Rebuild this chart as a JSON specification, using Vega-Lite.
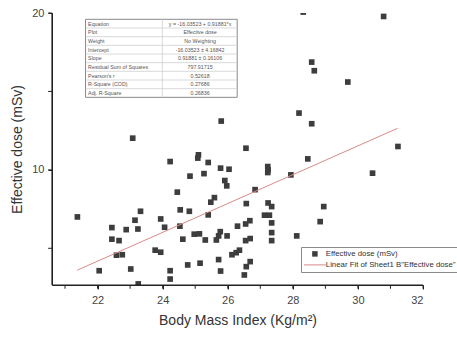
{
  "$schema": "https://vega.github.io/schema/vega-lite/v6.json",
  "width": 371,
  "height": 272,
  "autosize": {"type": "none"},
  "padding": {"left": 52, "top": 13, "right": 34, "bottom": 52},
  "background": "white",
  "config": {
    "view": {"stroke": null},
    "font": "Liberation Sans",
    "axis": {
      "grid": false,
      "domain": true,
      "ticks": true,
      "domainColor": "#222222",
      "tickColor": "#222222",
      "domainWidth": 1,
      "tickWidth": 1,
      "tickSize": 4,
      "labelColor": "#444444",
      "labelFontSize": 11,
      "labelFont": "Liberation Sans",
      "titleFontSize": 14,
      "titleFontWeight": "normal",
      "titleColor": "#333333",
      "titleFont": "Liberation Sans",
      "zindex": 1
    }
  },
  "datasets": {
    "pts": [
      {"bmi": 23.08, "dose": 12.02}, {"bmi": 26.56, "dose": 11.38}, {"bmi": 31.23, "dose": 11.49}, {"bmi": 24.23, "dose": 10.53},
      {"bmi": 25.10, "dose": 10.96}, {"bmi": 25.08, "dose": 10.75}, {"bmi": 25.40, "dose": 10.47}, {"bmi": 25.78, "dose": 10.11},
      {"bmi": 26.04, "dose": 10.04}, {"bmi": 25.27, "dose": 9.76}, {"bmi": 24.84, "dose": 9.60}, {"bmi": 27.23, "dose": 10.21},
      {"bmi": 27.24, "dose": 10.00}, {"bmi": 27.23, "dose": 9.83}, {"bmi": 28.46, "dose": 10.70}, {"bmi": 27.94, "dose": 9.68},
      {"bmi": 30.45, "dose": 9.79}, {"bmi": 25.91, "dose": 9.32}, {"bmi": 25.97, "dose": 8.98}, {"bmi": 26.84, "dose": 8.74},
      {"bmi": 24.45, "dose": 8.58}, {"bmi": 25.59, "dose": 8.23}, {"bmi": 25.48, "dose": 7.94}, {"bmi": 26.57, "dose": 7.85},
      {"bmi": 27.24, "dose": 7.89}, {"bmi": 27.35, "dose": 7.66}, {"bmi": 28.95, "dose": 7.66}, {"bmi": 24.54, "dose": 7.45},
      {"bmi": 24.82, "dose": 7.36}, {"bmi": 23.32, "dose": 7.36}, {"bmi": 25.40, "dose": 7.13}, {"bmi": 27.13, "dose": 7.11},
      {"bmi": 27.28, "dose": 7.11}, {"bmi": 21.38, "dose": 7.00}, {"bmi": 23.15, "dose": 6.79}, {"bmi": 23.94, "dose": 6.87},
      {"bmi": 26.68, "dose": 6.76}, {"bmi": 26.55, "dose": 6.55}, {"bmi": 27.35, "dose": 6.62}, {"bmi": 28.84, "dose": 6.70},
      {"bmi": 22.44, "dose": 6.32}, {"bmi": 22.88, "dose": 6.19}, {"bmi": 23.24, "dose": 6.23}, {"bmi": 24.06, "dose": 6.34},
      {"bmi": 24.53, "dose": 6.41}, {"bmi": 26.30, "dose": 6.41}, {"bmi": 25.77, "dose": 6.06}, {"bmi": 27.35, "dose": 6.00},
      {"bmi": 24.97, "dose": 5.90}, {"bmi": 25.13, "dose": 5.92}, {"bmi": 25.72, "dose": 5.79}, {"bmi": 25.98, "dose": 5.79},
      {"bmi": 25.65, "dose": 5.53}, {"bmi": 22.44, "dose": 5.58}, {"bmi": 22.66, "dose": 5.49}, {"bmi": 24.62, "dose": 5.58},
      {"bmi": 25.31, "dose": 5.53}, {"bmi": 26.55, "dose": 5.49}, {"bmi": 26.69, "dose": 5.62}, {"bmi": 27.35, "dose": 5.49},
      {"bmi": 28.12, "dose": 5.79}, {"bmi": 23.77, "dose": 4.88}, {"bmi": 23.94, "dose": 4.75}, {"bmi": 26.36, "dose": 4.88},
      {"bmi": 26.26, "dose": 4.72}, {"bmi": 26.13, "dose": 4.59}, {"bmi": 22.58, "dose": 4.56}, {"bmi": 22.76, "dose": 4.59},
      {"bmi": 25.72, "dose": 4.28}, {"bmi": 26.69, "dose": 4.15}, {"bmi": 26.57, "dose": 3.83}, {"bmi": 24.77, "dose": 3.94},
      {"bmi": 25.15, "dose": 4.05}, {"bmi": 22.05, "dose": 3.57}, {"bmi": 23.02, "dose": 3.68}, {"bmi": 24.23, "dose": 3.57},
      {"bmi": 24.23, "dose": 3.04}, {"bmi": 25.78, "dose": 3.55}, {"bmi": 26.51, "dose": 3.30}, {"bmi": 23.25, "dose": 2.73},
      {"bmi": 28.32, "dose": 20.06}, {"bmi": 30.79, "dose": 19.78}, {"bmi": 28.58, "dose": 16.87}, {"bmi": 28.66, "dose": 16.32},
      {"bmi": 29.69, "dose": 15.60}, {"bmi": 28.19, "dose": 13.62}, {"bmi": 28.58, "dose": 12.94}, {"bmi": 25.80, "dose": 13.11}
    ],
    "fit": [
      {"bmi": 21.38, "dose": 3.609},
      {"bmi": 31.22, "dose": 12.650}
    ],
    "xticks": [
      {"t": 21}, {"t": 22}, {"t": 23}, {"t": 24}, {"t": 25}, {"t": 26},
      {"t": 27}, {"t": 28}, {"t": 29}, {"t": 30}, {"t": 31}, {"t": 32}
    ],
    "yticks": [{"t": 5}, {"t": 10}, {"t": 15}, {"t": 20}],
    "table": [
      {"r": 0, "label": "Equation", "value": "y = -16.03523 + 0.91881*x"},
      {"r": 1, "label": "Plot", "value": "Effective dose"},
      {"r": 2, "label": "Weight", "value": "No Weighting"},
      {"r": 3, "label": "Intercept", "value": "-16.03523 ± 4.16842"},
      {"r": 4, "label": "Slope", "value": "0.91881 ± 0.16106"},
      {"r": 5, "label": "Residual Sum of Squares", "value": "797.91715"},
      {"r": 6, "label": "Pearson's r", "value": "0.52618"},
      {"r": 7, "label": "R-Square (COD)", "value": "0.27686"},
      {"r": 8, "label": "Adj. R-Square", "value": "0.26836"}
    ]
  },
  "layer": [
    {
      "data": {"name": "pts"},
      "mark": {"type": "point", "shape": "square", "filled": true, "size": 32, "opacity": 1, "clip": true},
      "encoding": {
        "x": {
          "field": "bmi", "type": "quantitative",
          "scale": {"domain": [20.6, 32], "nice": false, "zero": false},
          "axis": {
            "title": "Body Mass Index (Kg/m²)",
            "values": [22, 24, 26, 28, 30, 32],
            "labelPadding": 5,
            "titlePadding": 8
          }
        },
        "y": {
          "field": "dose", "type": "quantitative",
          "scale": {"domain": [2.66, 20], "nice": false, "zero": false},
          "axis": {
            "title": "Effective dose (mSv)",
            "values": [10, 20],
            "labelPadding": 4,
            "titlePadding": 7
          }
        },
        "color": {
          "datum": "Effective dose (mSv)",
          "type": "nominal",
          "scale": {
            "domain": ["Effective dose (mSv)", "Linear Fit of Sheet1 B\"Effective dose\""],
            "range": ["#3d3d3d", "#d98a8a"]
          },
          "legend": {
            "title": null,
            "orient": "none",
            "legendX": 249,
            "legendY": 234,
            "padding": 3,
            "fillColor": "white",
            "strokeColor": "#8a8a8a",
            "labelFontSize": 7.8,
            "labelFont": "Liberation Sans",
            "labelColor": "#333333",
            "symbolSize": 30,
            "symbolType": {"expr": "datum.value == 'Effective dose (mSv)' ? 'square' : 'M-4,0H4'"},
            "symbolStrokeColor": {"expr": "datum.value == 'Effective dose (mSv)' ? 'transparent' : '#d98a8a'"},
            "symbolStrokeWidth": 1,
            "symbolOpacity": 1,
            "symbolOffset": 7,
            "labelOffset": 7,
            "rowPadding": 1,
            "labelLimit": 300
          }
        }
      }
    },
    {
      "data": {"name": "fit"},
      "mark": {"type": "line", "strokeWidth": 1, "color": "#d98a8a"},
      "encoding": {
        "x": {"field": "bmi", "type": "quantitative"},
        "y": {"field": "dose", "type": "quantitative"}
      }
    },
    {
      "data": {"values": [{}]},
      "mark": {"type": "rule", "stroke": "#222222", "strokeWidth": 1.2},
      "encoding": {
        "x": {"datum": 20.6, "type": "quantitative"},
        "x2": {"datum": 32},
        "y": {"datum": 2.66, "type": "quantitative"}
      }
    },
    {
      "data": {"values": [{}]},
      "mark": {"type": "rule", "stroke": "#222222", "strokeWidth": 1.2},
      "encoding": {
        "x": {"datum": 20.6, "type": "quantitative"},
        "y": {"datum": 2.66, "type": "quantitative"},
        "y2": {"datum": 20}
      }
    },
    {
      "data": {"name": "xticks"},
      "mark": {"type": "rule", "stroke": "#222222", "strokeWidth": 1},
      "encoding": {
        "x": {"field": "t", "type": "quantitative"},
        "y": {"datum": 2.66, "type": "quantitative"},
        "y2": {"datum": 2.42}
      }
    },
    {
      "data": {"name": "yticks"},
      "mark": {"type": "rule", "stroke": "#222222", "strokeWidth": 1},
      "encoding": {
        "y": {"field": "t", "type": "quantitative"},
        "x": {"datum": 20.6, "type": "quantitative"},
        "x2": {"datum": 20.48}
      }
    },
    {
      "data": {"values": [{}]},
      "mark": {"type": "rect", "fill": "white", "stroke": "#8a8a8a", "strokeWidth": 1},
      "encoding": {
        "x": {"datum": 21.63, "type": "quantitative"},
        "x2": {"datum": 26.29},
        "y": {"datum": 19.598, "type": "quantitative"},
        "y2": {"datum": 14.624}
      }
    },
    {
      "data": {"name": "table"},
      "transform": [
        {"filter": "datum.r >= 1"},
        {"calculate": "19.598 - 0.5527 * datum.r", "as": "yTop"}
      ],
      "mark": {"type": "rule", "stroke": "#cfcfcf", "strokeWidth": 0.8},
      "encoding": {
        "x": {"datum": 21.63, "type": "quantitative"},
        "x2": {"datum": 26.29},
        "y": {"field": "yTop", "type": "quantitative"}
      }
    },
    {
      "data": {"values": [{}]},
      "mark": {"type": "rule", "stroke": "#cfcfcf", "strokeWidth": 0.8},
      "encoding": {
        "x": {"datum": 23.99, "type": "quantitative"},
        "y": {"datum": 19.598, "type": "quantitative"},
        "y2": {"datum": 14.624}
      }
    },
    {
      "data": {"name": "table"},
      "transform": [{"calculate": "19.598 - 0.5527 * (datum.r + 0.5)", "as": "yMid"}],
      "mark": {"type": "text", "align": "left", "baseline": "middle", "fontSize": 5.3, "color": "#555555", "font": "Liberation Sans"},
      "encoding": {
        "x": {"datum": 21.71, "type": "quantitative"},
        "y": {"field": "yMid", "type": "quantitative"},
        "text": {"field": "label"}
      }
    },
    {
      "data": {"name": "table"},
      "transform": [{"calculate": "19.598 - 0.5527 * (datum.r + 0.5)", "as": "yMid"}],
      "mark": {"type": "text", "align": "center", "baseline": "middle", "fontSize": 5.3, "color": "#555555", "font": "Liberation Sans"},
      "encoding": {
        "x": {"datum": 25.15, "type": "quantitative"},
        "y": {"field": "yMid", "type": "quantitative"},
        "text": {"field": "value"}
      }
    }
  ]
}
